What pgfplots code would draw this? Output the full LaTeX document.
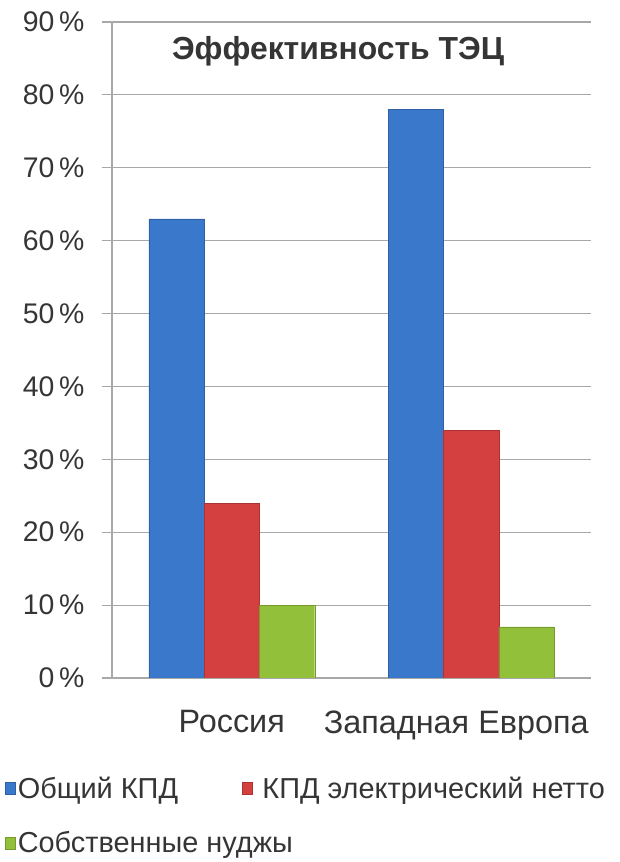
\documentclass[border=0pt]{standalone}
\usepackage{pgfplots}
\pgfplotsset{compat=1.18}
\usepackage{fontspec}
\setmainfont{Liberation Sans}
\definecolor{cblue}{HTML}{3A78CC}
\definecolor{cred}{HTML}{D43F3F}
\definecolor{cgreen}{HTML}{93C03A}
\definecolor{cgrid}{HTML}{A8A8A8}
\definecolor{ctext}{HTML}{353535}
\begin{document}
\begin{tikzpicture}
\useasboundingbox (0,0) rectangle (620bp,862bp);
\begin{axis}[
  at={(112bp,184bp)}, anchor=south west,
  scale only axis, width=479bp, height=656bp,
  xmin=-0.5, xmax=1.5, ymin=0, ymax=90,
  ybar=0pt, bar width=0.231,
  axis x line*=bottom, axis y line*=left,
  axis line style={cgrid, line width=1.2bp},
  xtick={0,1}, xticklabels={Россия, \hspace*{-30bp}Западная Европа},
  xtick style={draw=none},
  extra x ticks={-0.5,0.5,1.5}, extra x tick labels={},
  extra x tick style={tick align=outside, major tick length=8bp, tick style={cgrid, line width=1.2bp}},
  ytick={0,10,...,90},
  yticklabels={0\,\%,10\,\%,20\,\%,30\,\%,40\,\%,50\,\%,60\,\%,70\,\%,80\,\%,90\,\%},
  tick align=outside, major tick length=10bp,
  ytick style={cgrid, line width=1.2bp},
  ymajorgrids, grid style={cgrid, line width=1.2bp},
  yticklabel style={font=\fontsize{28.5}{32}\selectfont, text=ctext, xshift=-14bp},
  xticklabel style={font=\fontsize{32.5}{36}\selectfont, text=ctext, yshift=-19bp},
  title={Эффективность ТЭЦ},
  title style={at={(axis description cs:0.472,0.947)}, anchor=center, font=\bfseries\fontsize{32}{36}\selectfont, text=ctext},
  legend style={at={(axis description cs:-0.223,-0.147)}, anchor=north west, draw=none, fill=none,
    font=\fontsize{29}{33}\selectfont, text=ctext, legend columns=2,
    /tikz/every even column/.append style={column sep=62bp},
    row sep=28bp, inner sep=0pt, nodes={inner sep=2bp}},
  legend cell align=left,
  legend image code/.code={\fill[#1] (0bp,-6bp) rectangle (10bp,6bp);},
]
\addplot[fill=cblue, draw=cblue!80!black] coordinates {(0,63) (1,78)};
\addplot[fill=cred, draw=cred!80!black] coordinates {(0,24) (1,34)};
\addplot[fill=cgreen, draw=cgreen!80!black] coordinates {(0,10) (1,7)};
\legend{Общий КПД, \hspace{8bp}КПД электрический нетто, \makebox[0pt][l]{Собственные нуджы}}
\end{axis}
\end{tikzpicture}
\end{document}
